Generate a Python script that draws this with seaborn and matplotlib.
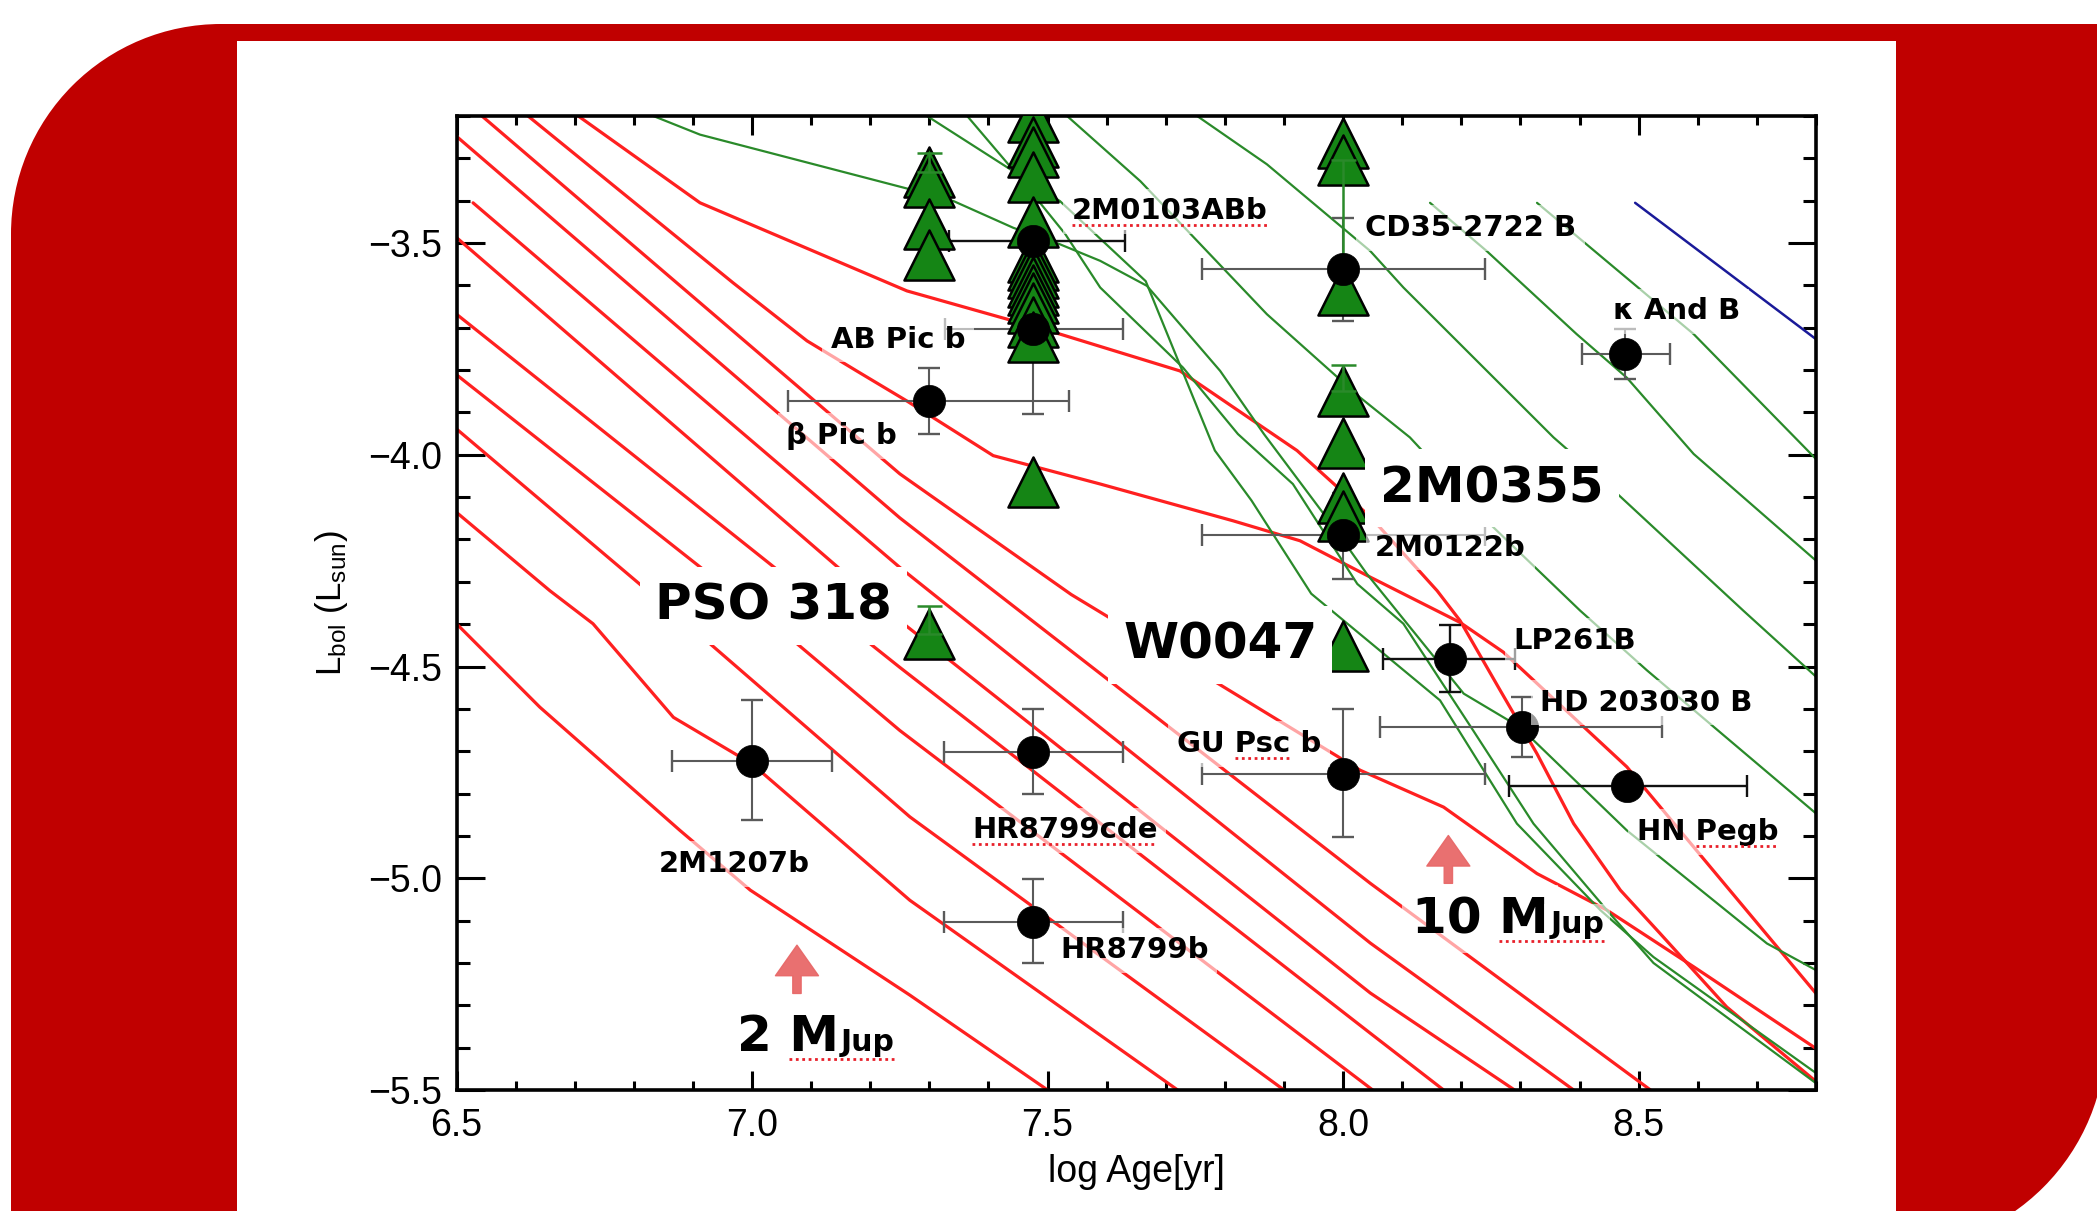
import matplotlib
matplotlib.use("Agg")
import matplotlib.pyplot as plt
import seaborn as sns
import numpy as np
import pandas as pd
from matplotlib.patches import Rectangle, Circle
from matplotlib.lines import Line2D
from matplotlib.transforms import IdentityTransform
from matplotlib.ticker import MultipleLocator, FuncFormatter

# ---------------- DATA (log age [yr], log Lbol [Lsun]) ----------------
red_track_01 = [(6.500, -4.399), (6.641, -4.596), (6.878, -4.887), (6.997, -5.028), (7.267, -5.276), (7.500, -5.500)]
red_track_02 = [(6.500, -4.136), (6.658, -4.321), (6.731, -4.399), (6.867, -4.620), (7.000, -4.730), (7.267, -5.052), (7.720, -5.500)]
red_track_03 = [(6.500, -3.939), (6.923, -4.439), (7.267, -4.855), (7.900, -5.500)]
red_track_04 = [(6.500, -3.811), (7.070, -4.439), (7.250, -4.651), (8.050, -5.500)]
red_track_05 = [(6.500, -3.668), (7.250, -4.502), (8.046, -5.366), (8.170, -5.500)]
red_track_06 = [(6.500, -3.487), (7.250, -4.392), (8.046, -5.271), (8.290, -5.500)]
red_track_07 = [(6.528, -3.405), (7.250, -4.266), (8.046, -5.153), (8.390, -5.500)]
red_track_08 = [(6.500, -3.248), (7.250, -4.149), (8.046, -5.012), (8.520, -5.500)]
red_track_09 = [(6.543, -3.200), (7.250, -4.045), (7.540, -4.330), (7.780, -4.533), (8.029, -4.745),
                (8.170, -4.832), (8.328, -4.989), (8.446, -5.075), (8.593, -5.209), (8.800, -5.402)]
red_track_10 = [(6.621, -3.200), (6.968, -3.594), (7.093, -3.731), (7.177, -3.802), (7.262, -3.873),
                (7.408, -4.002), (7.589, -4.069), (7.814, -4.156), (7.927, -4.203), (8.046, -4.289),
                (8.198, -4.396), (8.271, -4.466), (8.480, -4.737), (8.621, -4.973), (8.800, -5.272)]
red_track_11 = [(6.706, -3.200), (6.912, -3.405), (7.262, -3.613), (7.521, -3.715), (7.724, -3.802),
                (7.922, -3.990), (8.047, -4.148), (8.159, -4.321), (8.198, -4.392), (8.266, -4.557),
                (8.328, -4.706), (8.390, -4.871), (8.469, -5.028), (8.536, -5.130), (8.649, -5.304),
                (8.800, -5.480)]

green_track_1 = [(6.833, -3.200), (6.912, -3.244), (7.267, -3.373), (7.341, -3.401), (7.442, -3.464),
                 (7.521, -3.503), (7.589, -3.542), (7.668, -3.601), (7.792, -3.802), (7.866, -3.951),
                 (7.984, -4.171), (8.040, -4.281), (8.204, -4.564), (8.299, -4.643), (8.480, -4.887),
                 (8.717, -5.154), (8.800, -5.217)]
green_track_2 = [(7.296, -3.200), (7.521, -3.401), (7.666, -3.590), (7.783, -3.990), (7.845, -4.108),
                 (7.946, -4.328), (8.164, -4.580), (8.294, -4.871), (8.435, -5.075), (8.525, -5.186),
                 (8.800, -5.460)]
green_track_3 = [(7.364, -3.200), (7.453, -3.346), (7.530, -3.479), (7.589, -3.605), (7.729, -3.794),
                 (7.822, -3.951), (7.915, -4.069), (8.024, -4.305), (8.102, -4.399), (8.220, -4.651),
                 (8.322, -4.871), (8.446, -5.075), (8.525, -5.200), (8.800, -5.484)]
green_track_4 = [(7.533, -3.200), (7.657, -3.354), (7.871, -3.668), (8.029, -3.865), (8.113, -3.959),
                 (8.254, -4.171), (8.401, -4.368), (8.514, -4.509), (8.800, -4.847)]
green_track_5 = [(7.753, -3.200), (7.871, -3.314), (8.046, -3.519), (8.102, -3.605), (8.356, -3.959),
                 (8.446, -4.069), (8.677, -4.368), (8.800, -4.524)]
green_track_6 = [(8.147, -3.405), (8.243, -3.519), (8.395, -3.715), (8.480, -3.818), (8.593, -3.998),
                 (8.800, -4.250)]
green_track_7 = [(8.328, -3.405), (8.593, -3.715), (8.800, -4.010)]
blue_track = [(8.494, -3.405), (8.800, -3.727)]

# companions with error bars
pts_name = ["2M0103ABb", "AB Pic b", "β Pic b", "CD35-2722 B", "κ And B", "2M0122b", "LP261B",
            "HD 203030 B", "HN Pegb", "GU Psc b", "HR8799cde", "HR8799b", "2M1207b"]
pts_age = [7.476, 7.476, 7.299, 8.000, 8.477, 8.000, 8.181, 8.302, 8.480, 8.000, 7.476, 7.476, 7.000]
pts_lum = [-3.495, -3.704, -3.873, -3.562, -3.763, -4.190, -4.482, -4.643, -4.781, -4.753, -4.702, -5.103, -4.722]
pts_age_lo = [0.143, 0.150, 0.238, 0.239, 0.073, 0.239, 0.113, 0.239, 0.200, 0.239, 0.152, 0.152, 0.136]
pts_age_hi = [0.155, 0.152, 0.238, 0.240, 0.076, 0.240, 0.110, 0.237, 0.203, 0.240, 0.152, 0.152, 0.135]
pts_lum_lo = [0.210, 0.200, 0.078, 0.122, 0.059, 0.103, 0.079, 0.071, 0.000, 0.150, 0.098, 0.098, 0.141]
pts_lum_hi = [0.204, 0.000, 0.079, 0.122, 0.059, 0.100, 0.079, 0.071, 0.000, 0.153, 0.102, 0.102, 0.142]
pts_dark_err = [True, False, False, False, False, False, True, False, True, False, False, False, False]

# free-floating objects (triangles)
tri_age = [7.300, 7.300, 7.300, 7.300,
           7.476, 7.476, 7.476, 7.476, 7.476, 7.476, 7.476, 7.476, 7.476, 7.476, 7.476, 7.476, 7.476, 7.476,
           7.476,
           8.000, 8.000, 8.000, 8.000, 8.000, 8.000, 8.000,
           8.000, 7.300]
tri_lum = [-3.332, -3.356, -3.456, -3.528,
           -3.202, -3.261, -3.285, -3.344, -3.450, -3.532, -3.552, -3.571, -3.591, -3.611, -3.630, -3.654, -3.686, -3.721,
           -4.065,
           -3.263, -3.303, -3.611, -3.849, -3.971, -4.101, -4.144,
           -4.452, -4.423]
tri_err_age = [7.300, 8.000, 8.000, 7.300]
tri_err_lum = [-4.423, -3.849, -3.303, -3.332]
tri_err_lo = [0.000, 0.000, 0.250, 0.000]
tri_err_hi = [0.065, 0.060, 0.000, 0.045]

x_ticks = [6.5, 7.0, 7.5, 8.0, 8.5]
y_ticks = [-3.5, -4.0, -4.5, -5.0, -5.5]

# ---------------- STYLE ----------------
sns.set_theme(style="ticks")
plt.rcParams['font.family'] = ['DejaVu Sans']
plt.rcParams['axes.unicode_minus'] = True
plt.rcParams['mathtext.default'] = 'regular'

RED = '#FF2020'
GREEN_LINE = '#2A8A2A'
TRI_GREEN = '#158515'
BLUE = '#1A1A99'
SLIDE_RED = '#C00000'
PINK = '#E86868'
GRAY_ERR = '#5A5A5A'
AXIS_FONT = ['Liberation Sans', 'DejaVu Sans']

W, H = 2097, 1211
fig = plt.figure(figsize=(W / 100, H / 100), dpi=100)
fig.patch.set_facecolor('white')


def px_box(x0, y0, x1, y1, color, z):
    r = Rectangle((x0 / 100, (H - y1) / 100), (x1 - x0) / 100, (y1 - y0) / 100,
                  transform=fig.dpi_scale_trans, facecolor=color, edgecolor='none', zorder=z)
    fig.add_artist(r)


def px_circle(cx, cy, r, color, z):
    c = Circle((cx / 100, (H - cy) / 100), r / 100, transform=fig.dpi_scale_trans,
               facecolor=color, edgecolor='none', zorder=z)
    fig.add_artist(c)


# slide background
px_box(11, 24, 2106, 1250, SLIDE_RED, -10)
R1 = 210
px_box(11, 24, 11 + R1, 24 + R1, 'white', -9)
px_circle(11 + R1, 24 + R1, R1, SLIDE_RED, -8)
R2 = 214
px_box(2106 - R2, 1250 - R2, 2106, 1250, 'white', -9)
px_circle(2106 - R2, 1250 - R2, R2, SLIDE_RED, -8)
px_box(237, 41, 1896, 1300, 'white', -7)

ax = fig.add_axes([456.5 / W, 1 - 1090 / H, (1816 - 456.5) / W, (1090 - 116) / H])
ax.set_facecolor('white')

# tracks
red_tracks = [red_track_01, red_track_02, red_track_03, red_track_04, red_track_05, red_track_06,
              red_track_07, red_track_08, red_track_09, red_track_10, red_track_11]
green_tracks = [green_track_1, green_track_2, green_track_3, green_track_4, green_track_5,
                green_track_6, green_track_7]
for tr in red_tracks:
    df = pd.DataFrame(tr, columns=['age', 'lum'])
    sns.lineplot(data=df, x='age', y='lum', sort=False, estimator=None, color=RED, lw=2.3, ax=ax, zorder=2)
for tr in green_tracks:
    df = pd.DataFrame(tr, columns=['age', 'lum'])
    sns.lineplot(data=df, x='age', y='lum', sort=False, estimator=None, color=GREEN_LINE, lw=1.6, ax=ax, zorder=2)
dfb = pd.DataFrame(blue_track, columns=['age', 'lum'])
sns.lineplot(data=dfb, x='age', y='lum', sort=False, estimator=None, color=BLUE, lw=1.8, ax=ax, zorder=2)

# error bars for companions
for i in range(len(pts_name)):
    col = '#111111' if pts_dark_err[i] else GRAY_ERR
    yerr = None
    if pts_lum_lo[i] > 0 or pts_lum_hi[i] > 0:
        yerr = [[pts_lum_lo[i]], [pts_lum_hi[i]]]
    ax.errorbar([pts_age[i]], [pts_lum[i]], xerr=[[pts_age_lo[i]], [pts_age_hi[i]]], yerr=yerr,
                fmt='none', ecolor=col, elinewidth=1.7 if pts_dark_err[i] else 1.5,
                capsize=8, capthick=1.7, zorder=4)

# triangles
sns.scatterplot(x=tri_age, y=tri_lum, marker='^', s=1300, color=TRI_GREEN, edgecolor='black',
                linewidth=1.8, zorder=5, ax=ax, legend=False)
for i in range(len(tri_err_age)):
    ax.errorbar([tri_err_age[i]], [tri_err_lum[i]], yerr=[[tri_err_lo[i]], [tri_err_hi[i]]],
                fmt='none', ecolor=GREEN_LINE, elinewidth=1.8, capsize=9, capthick=1.8, zorder=5.5)

# companion dots
sns.scatterplot(x=pts_age, y=pts_lum, marker='o', s=540, color='black', edgecolor='black',
                linewidth=0.5, zorder=6, ax=ax, legend=False)

# axes styling
ax.set_xlim(6.5, 8.8)
ax.set_ylim(-5.5, -3.2)
ax.set_xticks(x_ticks)
ax.set_yticks(y_ticks)
ax.xaxis.set_minor_locator(MultipleLocator(0.1))
ax.yaxis.set_minor_locator(MultipleLocator(0.1))
fmt = FuncFormatter(lambda v, p: ("%.1f" % v).replace('-', '\u2212'))
ax.xaxis.set_major_formatter(fmt)
ax.yaxis.set_major_formatter(fmt)
for sp in ax.spines.values():
    sp.set_visible(True)
    sp.set_linewidth(2.6)
    sp.set_color('black')
ax.tick_params(which='both', direction='in', top=True, right=True, width=2.2, color='black')
ax.tick_params(axis='x', which='major', length=14, pad=13, labelsize=27)
ax.tick_params(axis='x', which='minor', length=6.5)
ax.tick_params(axis='y', which='major', length=20, pad=10, labelsize=27)
ax.tick_params(axis='y', which='minor', length=9.5)
for lab in ax.get_xticklabels() + ax.get_yticklabels():
    lab.set_color('black')
    lab.set_family(AXIS_FONT)
ax.set_xlabel('log Age[yr]', fontsize=27, color='black', family=AXIS_FONT)
ax.set_ylabel(r'L$_{bol}$ (L$_{sun}$)', fontsize=25, color='black', family=AXIS_FONT)
ax.xaxis.set_label_coords(0.5, -0.066)
ax.yaxis.set_label_coords(-0.078, 0.5)
ax.grid(False)

# ---------------- LABELS (layout) ----------------
small_labels = [
    ("2M0103ABb", 7.541, -3.444),
    ("CD35-2722 B", 8.037, -3.483),
    ("κ And B", 8.457, -3.680),
    ("AB Pic b", 7.133, -3.747),
    ("β Pic b", 7.058, -3.975),
    ("2M0122b", 8.054, -4.238),
    ("LP261B", 8.288, -4.458),
    ("HD 203030 B", 8.333, -4.604),
    ("GU Psc b", 7.719, -4.702),
    ("HN Pegb", 8.497, -4.910),
    ("HR8799cde", 7.372, -4.906),
    ("HR8799b", 7.521, -5.189),
    ("2M1207b", 6.842, -4.985),
]
big_labels = [
    ("2M0355", 8.063, -4.112),
    ("PSO 318", 6.836, -4.390),
    ("W0047", 7.628, -4.482),
]
underlined = {"2M0103ABb": "2M0103ABb", "HR8799cde": "HR8799cde", "GU Psc b": "Psc", "HN Pegb": "Pegb"}

SMALL_FS = 21
BIG_FS = 36
texts = {}
for s, x, y in small_labels:
    texts[s] = ax.text(x, y, s, fontsize=SMALL_FS, fontweight='bold', color='black', va='baseline', ha='left',
                       zorder=10, bbox=dict(boxstyle='square,pad=0.3', fc='white', ec='none', alpha=0.6))
for s, x, y in big_labels:
    texts[s] = ax.text(x, y, s, fontsize=BIG_FS, fontweight='bold', color='black', va='baseline', ha='left',
                       zorder=10, bbox=dict(boxstyle='square,pad=0.3', fc='white', ec='none', alpha=1.0))

mass_labels = [("2 M", 6.974, -5.409), ("10 M", 8.116, -5.130)]
mass_texts = []
for s, x, y in mass_labels:
    t = ax.text(x, y, s, fontsize=BIG_FS, fontweight='bold', color='black', va='baseline', ha='left',
                zorder=10, bbox=dict(boxstyle='square,pad=0.2', fc='white', ec='none', alpha=0.6))
    mass_texts.append(t)

# pink arrows
for (xa, y0, y1) in [(7.076, -5.272, -5.158), (8.178, -5.012, -4.899)]:
    ax.annotate('', xy=(xa, y1), xytext=(xa, y0),
                arrowprops=dict(arrowstyle='simple,head_length=1.1,head_width=1.55,tail_width=0.3',
                                color=PINK, alpha=0.95, shrinkA=0, shrinkB=0, mutation_scale=20),
                zorder=7)

fig.canvas.draw()
renderer = fig.canvas.get_renderer()


def twidth(s, fp):
    w, h, d = renderer.get_text_width_height_descent(s, fp, ismath=False)
    return w


def add_underline(xs, xe, ybase, fs_pt):
    yy = ybase - 0.2 * fs_pt * 100 / 72
    fig.add_artist(Line2D([xs, xe], [yy, yy], transform=IdentityTransform(), color='#E8202A',
                          lw=2.0, ls=(0, (1, 1.3)), zorder=20))


for s, sub in underlined.items():
    t = texts[s]
    fp = t.get_fontproperties()
    i = s.index(sub)
    w_end = twidth(s[:i + len(sub)], fp)
    w_sub = twidth(sub, fp)
    xd, yd = ax.transData.transform(t.get_position())
    add_underline(xd + w_end - w_sub, xd + w_end, yd, SMALL_FS)

inv = ax.transData.inverted()
for t in mass_texts:
    xd, yd = ax.transData.transform(t.get_position())
    s = t.get_text()
    fp = t.get_fontproperties()
    w_full = twidth(s, fp)
    w_m = twidth("M", fp)
    x_end = xd + w_full + 2
    xj = inv.transform((x_end, yd))[0]
    tj = ax.text(xj, t.get_position()[1], "Jup", fontsize=21.5, fontweight='bold', color='black',
                 va='baseline', ha='left', zorder=10,
                 bbox=dict(boxstyle='square,pad=0.2', fc='white', ec='none', alpha=0.6))
    wj = twidth("Jup", tj.get_fontproperties())
    add_underline(xd + w_full - w_m, x_end + wj, yd, 26)

fig.savefig('out.png', dpi=100, facecolor='white')
